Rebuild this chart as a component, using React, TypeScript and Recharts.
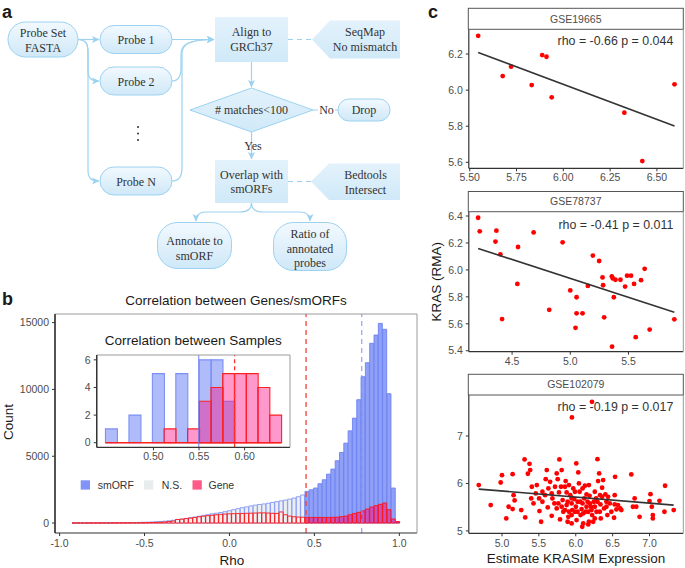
import React from "react";
import { ComposedChart, Bar, Cell, XAxis, YAxis, ReferenceLine, Scatter } from "recharts";

const SANS = "'Liberation Sans', Arial, Helvetica, sans-serif";
const SERIF = "'Liberation Serif', 'Times New Roman', serif";

// ---------- panel b: main histogram (Correlation between Genes/smORFs) ----------
const rhoBins = [
  -0.9143, -0.8889, -0.8635, -0.8381, -0.8127, -0.7873, -0.7619, -0.7365, -0.7111, -0.6857,
  -0.6603, -0.6349, -0.6095, -0.5841, -0.5587, -0.5333, -0.5079, -0.4825, -0.4571, -0.4317,
  -0.4063, -0.3809, -0.3555, -0.3301, -0.3047, -0.2793, -0.2539, -0.2285, -0.2031, -0.1777,
  -0.1523, -0.1269, -0.1015, -0.0761, -0.0507, -0.0253, 0.0001, 0.0255, 0.0509, 0.0763,
  0.1017, 0.1271, 0.1525, 0.1779, 0.2033, 0.2287, 0.2541, 0.2795, 0.3049, 0.3303,
  0.3557, 0.3811, 0.4065, 0.4319, 0.4573, 0.4827, 0.5081, 0.5335, 0.5589, 0.5843,
  0.6097, 0.6351, 0.6605, 0.6859, 0.7113, 0.7367, 0.7621, 0.7875, 0.8129, 0.8383,
  0.8637, 0.8891, 0.9145, 0.9399, 0.9653, 0.9907,
];
const smorfCounts = [
  10, 10, 10, 12, 12, 15, 15, 18, 20, 22,
  25, 28, 30, 35, 40, 45, 55, 65, 80, 95,
  115, 140, 170, 210, 260, 300, 350, 400, 450, 510,
  570, 630, 690, 740, 790, 850, 920, 1000, 1080, 1150,
  1210, 1280, 1340, 1390, 1430, 1480, 1540, 1600, 1660, 1720,
  1790, 1870, 1970, 2100, 2370, 2490, 2620, 2940, 3240, 3660,
  4040, 4660, 5280, 5980, 6900, 7850, 9230, 10950, 12000, 13450,
  14070, 14940, 14500, 9680, 2620, 80,
];
const geneCounts = [
  5, 5, 5, 5, 5, 5, 8, 8, 8, 10,
  10, 12, 12, 15, 15, 18, 20, 30, 40, 50,
  60, 80, 110, 150, 270, 290, 330, 370, 420, 470,
  510, 550, 580, 620, 650, 670, 690, 700, 710, 720,
  730, 740, 750, 760, 760, 750, 730, 720, 830, 620,
  520, 470, 450, 440, 430, 420, 420, 420, 420, 420,
  430, 440, 480, 520, 620, 720, 800, 920, 1050, 1200,
  1300, 1400, 1500, 1000, 300, 110,
];
const sigThreshold = 0.451; // red dashed line
const smorfMedian = 0.779; // blue dashed line
const mainXTicks = [-1, -0.5, 0, 0.5, 1];
const mainYTicks = [0, 5000, 10000, 15000];

// ---------- panel b inset: Correlation between Samples ----------
const sampleBins = [0.4537, 0.4666, 0.4795, 0.4923, 0.5052, 0.518, 0.5309, 0.5438, 0.5566, 0.5695, 0.5823, 0.5952, 0.6081, 0.6209, 0.6338];
const sampleSmorf = [1, 0, 2, 0, 5, 0, 5, 0, 6, 6, 3, 0, 0, 0, 0];
const sampleGene = [0, 0, 0, 0, 0, 1, 0, 1, 3, 4, 5, 5, 5, 4, 2];
const sampleSmorfLine = 0.5497;
const sampleGeneLine = 0.589;
const insetXTicks = [0.5, 0.55, 0.6];
const insetYTicks = [0, 2, 4, 6];

// ---------- panel c: scatter facets ----------
const gse19665X = [5.545, 5.676, 5.721, 5.831, 5.887, 5.91, 5.938, 6.326, 6.422, 6.594];
const gse19665Y = [6.301, 6.078, 6.13, 6.028, 6.194, 6.185, 5.96, 5.875, 5.607, 6.032];
const gse19665FitX = [5.545, 6.594];
const gse19665FitY = [6.209, 5.801];

const gse78737X = [
  4.208, 4.222, 4.365, 4.357, 4.399, 4.414, 4.551, 4.545, 4.685, 4.819,
  4.934, 5.0, 5.054, 5.054, 5.045, 5.105, 5.151, 5.194, 5.248, 5.277,
  5.282, 5.291, 5.357, 5.365, 5.374, 5.359, 5.388, 5.431, 5.471, 5.488,
  5.522, 5.548, 5.562, 5.608, 5.639, 5.682, 5.894,
];
const gse78737Y = [
  6.387, 6.286, 6.291, 6.21, 6.116, 5.635, 6.17, 5.896, 6.278, 5.704,
  6.205, 5.848, 5.797, 5.678, 5.57, 5.678, 5.881, 6.106, 6.066, 5.944,
  5.886, 5.648, 5.952, 5.937, 5.797, 5.43, 5.927, 5.927, 5.876, 5.957,
  5.957, 5.896, 5.501, 5.924, 6.008, 5.557, 5.633,
];
const gse78737FitX = [4.208, 5.894];
const gse78737FitY = [6.159, 5.686];

const gse102079X = [
  6.22, 5.948, 4.685, 4.847, 4.982, 5.0, 5.058, 5.09, 5.144, 5.157,
  5.171, 5.144, 5.261, 5.315, 5.306, 5.373, 5.382, 5.351, 5.404, 5.396,
  5.427, 5.458, 5.508, 5.53, 5.548, 5.584, 5.607, 5.593, 5.629, 5.62,
  5.652, 5.674, 5.683, 5.71, 5.719, 5.742, 5.755, 5.773, 5.778, 5.787,
  5.809, 5.8, 5.809, 5.822, 5.854, 5.863, 5.876, 5.89, 5.899, 5.908,
  5.926, 5.944, 5.953, 5.98, 5.989, 6.002, 6.011, 6.007, 6.034, 6.043,
  6.052, 6.061, 6.079, 6.088, 6.101, 6.115, 6.124, 6.146, 6.16, 6.169,
  6.178, 6.187, 6.205, 6.222, 6.236, 6.245, 6.258, 6.276, 6.294, 6.303,
  6.317, 6.33, 6.335, 6.339, 6.357, 6.371, 6.384, 6.402, 6.416, 6.429,
  6.438, 6.519, 6.533, 6.528, 6.551, 6.604, 6.753, 6.798, 6.775, 6.82,
  6.865, 7.013, 7.0, 7.031, 7.045, 7.045, 7.135, 7.202, 7.211, 7.328,
  5.831, 5.908, 5.944, 5.966, 6.025, 6.065, 6.092, 6.133, 6.146, 6.191,
  6.213, 6.258, 6.281, 6.178, 6.092, 6.025, 5.944, 5.876, 5.854, 5.764,
  5.742, 5.674, 5.548, 5.472, 5.503, 6.294, 6.326, 6.357, 6.416, 6.461,
  6.483, 6.573, 6.618, 6.528, 6.101, 6.169, 6.258, 5.989, 5.89, 5.944,
];
const gse102079Y = [
  7.72, 7.39, 5.965, 5.544, 6.02, 6.175, 5.263, 5.509, 6.196, 5.754,
  5.642, 5.46, 5.44, 5.284, 6.505, 6.414, 6.281, 6.204, 5.93, 5.684,
  5.579, 5.789, 5.418, 5.193, 5.614, 5.754, 6.281, 6.091, 5.895, 5.495,
  6.035, 5.319, 5.684, 5.579, 5.93, 6.211, 6.091, 5.811, 6.505, 5.242,
  6.281, 5.93, 5.509, 5.649, 5.439, 6.049, 5.811, 5.614, 5.298, 5.965,
  5.754, 5.579, 5.439, 5.67, 5.825, 5.509, 5.228, 6.421, 6.232, 6.0,
  5.825, 5.614, 5.46, 5.088, 5.368, 5.684, 5.951, 5.509, 5.614, 5.404,
  5.193, 5.74, 5.509, 5.333, 5.193, 5.614, 5.825, 5.684, 6.512, 6.049,
  6.211, 5.754, 5.558, 5.263, 5.909, 6.07, 5.474, 5.768, 5.614, 5.333,
  5.719, 5.277, 6.14, 5.558, 5.453, 5.474, 6.189, 5.684, 5.509, 5.509,
  5.298, 5.775, 5.628, 5.509, 5.333, 5.263, 5.635, 5.404, 5.951, 5.439,
  5.404, 5.404, 5.333, 5.895, 5.404, 5.333, 5.579, 5.404, 5.768, 5.579,
  5.439, 5.509, 5.404, 5.965, 5.895, 5.614, 5.684, 5.544, 5.93, 5.579,
  5.474, 5.789, 5.825, 5.965, 5.684, 5.614, 5.404, 5.719, 5.509, 5.579,
  5.404, 5.544, 5.439, 5.754, 5.158, 5.137, 5.263, 5.404, 5.193, 5.158,
];
const gse102079FitX = [4.685, 7.328];
const gse102079FitY = [5.881, 5.544];

// ---------- shared styles ----------
const axisLineStyle = { stroke: "#333333", strokeWidth: 1.2 };
const tickLineStyle = { stroke: "#333333", strokeWidth: 1 };
const tickText = { fontSize: 10.5, fill: "#4D4D4D", fontFamily: SANS };

function MainHistogram() {
  const rows = rhoBins.map((x, i) => ({ x, smorf: smorfCounts[i], gene: geneCounts[i] }));
  const dom: [number, number] = [-1.027, 1.104];
  return (
    <div style={{ position: "absolute", left: 0, top: 285 }}>
      <ComposedChart width={425} height={283} data={rows} margin={{ top: 29, right: 8, bottom: 0, left: 0 }} barGap={0} barCategoryGap={0}>
        <XAxis xAxisId="g" dataKey="x" type="number" domain={dom} allowDataOverflow hide height={0} />
        <XAxis xAxisId="s" dataKey="x" type="number" domain={dom} allowDataOverflow ticks={mainXTicks} interval={0}
          tickFormatter={(v: number) => v.toFixed(1)} height={35} tickSize={3} tickMargin={3.5}
          axisLine={axisLineStyle} tickLine={tickLineStyle} tick={tickText} />
        <YAxis type="number" domain={[-745, 15645]} allowDataOverflow ticks={mainYTicks} interval={0} width={55}
          tickSize={3} tickMargin={3} axisLine={axisLineStyle} tickLine={tickLineStyle} tick={tickText} />
        <Bar xAxisId="s" dataKey="smorf" isAnimationActive={false} strokeWidth={0.9}>
          {rows.map((r, i) => (
            <Cell key={"s" + i} fill={r.x > sigThreshold ? "#8193F6" : "#ECEFF0"} fillOpacity={r.x > sigThreshold ? 0.88 : 1}
              stroke={r.x > sigThreshold ? "#6C82F2" : "#8597F6"} />
          ))}
        </Bar>
        <Bar xAxisId="g" dataKey="gene" isAnimationActive={false} strokeWidth={0.9}>
          {rows.map((r, i) => (
            <Cell key={"g" + i} fill={r.x > sigThreshold ? "#FF0080" : "#F2F3F3"} fillOpacity={r.x > sigThreshold ? 0.5 : 0.6}
              stroke="#FF1414" />
          ))}
        </Bar>
        <ReferenceLine xAxisId="s" x={sigThreshold} stroke="#F2413A" strokeWidth={1.3} strokeDasharray="5 4" />
        <ReferenceLine xAxisId="s" x={smorfMedian} stroke="#7B8FF6" strokeWidth={1} strokeDasharray="5 4" />
      </ComposedChart>
    </div>
  );
}

function InsetHistogram() {
  const rows = sampleBins.map((x, i) => ({ x, smorf: sampleSmorf[i], gene: sampleGene[i] }));
  const dom: [number, number] = [0.4377, 0.6498];
  const half = (sampleBins[1] - sampleBins[0]) / 2;
  return (
    <div style={{ position: "absolute", left: 70, top: 350 }}>
      <ComposedChart width={225} height={115} data={rows} margin={{ top: 5, right: 5, bottom: 0, left: 0 }} barGap={0} barCategoryGap={0}>
        <XAxis xAxisId="g" dataKey="x" type="number" domain={dom} allowDataOverflow hide height={0} />
        <XAxis xAxisId="s" dataKey="x" type="number" domain={dom} allowDataOverflow ticks={insetXTicks} interval={0}
          tickFormatter={(v: number) => v.toFixed(2)} height={17.7} tickSize={3} tickMargin={2}
          axisLine={axisLineStyle} tickLine={tickLineStyle} tick={tickText} />
        <YAxis type="number" domain={[-0.33, 6.35]} allowDataOverflow ticks={insetYTicks} interval={0} width={26.7}
          tickSize={3} tickMargin={3} axisLine={axisLineStyle} tickLine={tickLineStyle} tick={tickText} />
        <Bar xAxisId="s" dataKey="smorf" isAnimationActive={false} fill="#8093F5" fillOpacity={0.62} stroke="#7B8FF6" strokeWidth={1.1} />
        <Bar xAxisId="g" dataKey="gene" isAnimationActive={false} fill="#FF0080" fillOpacity={0.4} stroke="#FF2020" strokeWidth={1.1} />
        <ReferenceLine xAxisId="s" segment={[{ x: sampleBins[0] - half, y: 0 }, { x: sampleBins[sampleBins.length - 1] + half, y: 0 }]}
          stroke="#FF2020" strokeWidth={1.3} />
        <ReferenceLine xAxisId="s" x={sampleSmorfLine} stroke="#6C82F2" strokeWidth={1} />
        <ReferenceLine xAxisId="s" x={sampleGeneLine} stroke="#FF3030" strokeWidth={1.3} strokeDasharray="4 3" />
      </ComposedChart>
    </div>
  );
}

const RedDot = (p: any) => <circle cx={p.cx} cy={p.cy} r={2.4} fill="#FF0000" />;
const NoDot = () => <g />;

type FacetProps = {
  top: number; height: number; mt: number; xh: number; tickMargin: number;
  xs: number[]; ys: number[]; fitX: number[]; fitY: number[];
  xDomain: [number, number]; yDomain: [number, number];
  xTicks: number[]; yTicks: number[]; fx: (v: number) => string; fy: (v: number) => string;
};

function Facet(props: FacetProps) {
  const pts = props.xs.map((x, i) => ({ x, y: props.ys[i] }));
  const fit = props.fitX.map((x, i) => ({ x, y: props.fitY[i] }));
  return (
    <div style={{ position: "absolute", left: 415, top: props.top }}>
      <ComposedChart width={270} height={props.height} margin={{ top: props.mt, right: 1.7, bottom: 0, left: 0 }}>
        <XAxis dataKey="x" type="number" domain={props.xDomain} allowDataOverflow ticks={props.xTicks} interval={0}
          tickFormatter={props.fx} height={props.xh} tickSize={3} tickMargin={props.tickMargin}
          axisLine={axisLineStyle} tickLine={tickLineStyle} tick={tickText} />
        <YAxis dataKey="y" type="number" domain={props.yDomain} allowDataOverflow ticks={props.yTicks} interval={0}
          tickFormatter={props.fy} width={53.8} tickSize={3} tickMargin={3}
          axisLine={axisLineStyle} tickLine={tickLineStyle} tick={tickText} />
        <Scatter data={pts} shape={RedDot} isAnimationActive={false} />
        <Scatter data={fit} shape={NoDot} line={{ stroke: "#333333", strokeWidth: 1.6 }} isAnimationActive={false} />
      </ComposedChart>
    </div>
  );
}

function Flowchart() {
  const LC = "#9CD2F0";
  const txt = { fontFamily: SERIF, fontSize: 12, fill: "#333333", textAnchor: "middle" as const };
  const boxFill = "url(#boxGrad)";
  const rectFill = "url(#rectGrad)";
  return (
    <g>
      <defs>
        <linearGradient id="boxGrad" x1="0" y1="0" x2="0" y2="1">
          <stop offset="0" stopColor="#F2F9FE" />
          <stop offset="1" stopColor="#CFE8F8" />
        </linearGradient>
        <linearGradient id="rectGrad" x1="0" y1="0" x2="0" y2="1">
          <stop offset="0" stopColor="#E3F2FC" />
          <stop offset="1" stopColor="#D0E9F8" />
        </linearGradient>
        <marker id="arr" markerWidth="8" markerHeight="8" refX="7" refY="4" orient="auto" markerUnits="userSpaceOnUse">
          <path d="M0,0.5 L7.5,4 L0,7.5 L1.8,4 Z" fill={LC} />
        </marker>
      </defs>
      <g fill="none" stroke={LC} strokeWidth={1.2}>
        <path d="M78,39.5 L99,39.5" markerEnd="url(#arr)" />
        <path d="M78,39.5 C86,39.5 88,44 88,52 L88,70 C88,78 91,81 99,81" markerEnd="url(#arr)" />
        <path d="M78,39.5 C86,39.5 88,44 88,52 L88,170 C88,178 91,181 99,181" markerEnd="url(#arr)" />
        <path d="M172,39.5 L214,39.5" markerEnd="url(#arr)" />
        <path d="M172,81 C179,81 181,76 181,68 L181,54 C181,44 190,39.5 214,39.5" markerEnd="url(#arr)" />
        <path d="M172,181 C179,181 182,176 182,168 L182,54 C182,44 190,39.5 214,39.5" markerEnd="url(#arr)" />
        <path d="M251.5,62 L251.5,87" markerEnd="url(#arr)" />
        <path d="M251.5,132 L251.5,159" markerEnd="url(#arr)" />
        <path d="M313,110 L318,110 M335,110 L338,110" />
        <path d="M251.5,203 C251.5,210 247,212 240,212 L206,212 C199,212 196,215 196,221" markerEnd="url(#arr)" />
        <path d="M251.5,203 C251.5,210 256,212 263,212 L300,212 C307,212 310,215 310,221" markerEnd="url(#arr)" />
        <path d="M288,39.5 L312,39.5 M288,181.5 L311,181.5" strokeDasharray="5 4" />
      </g>
      <rect x={8} y={22} width={70} height={35} rx={17.5} fill={boxFill} stroke={LC} />
      <rect x={100} y={25.5} width={72} height={28} rx={14} fill={boxFill} stroke={LC} />
      <rect x={100} y={67} width={72} height={28} rx={14} fill={boxFill} stroke={LC} />
      <rect x={100} y={167} width={72} height={28} rx={14} fill={boxFill} stroke={LC} />
      <rect x={215} y={17} width={73} height={45} fill={rectFill} />
      <rect x={215} y={160} width={73} height={43} fill={rectFill} />
      <polygon points="312,39.5 330,20.5 400,20.5 400,58.5 330,58.5" fill={rectFill} />
      <polygon points="311,181.5 329,163.5 400,163.5 400,200 329,200" fill={rectFill} />
      <polygon points="190,110 251.5,88 313,110 251.5,132" fill={rectFill} stroke={LC} />
      <rect x={338} y={99} width={52} height={22} rx={11} fill={boxFill} stroke={LC} />
      <rect x={157.5} y={222.5} width={74} height={46} rx={20} fill={boxFill} stroke={LC} />
      <rect x={273.5} y={222.5} width={73} height={48} rx={20} fill={boxFill} stroke={LC} />
      <circle cx={138} cy={127} r={1} fill="#333" />
      <circle cx={138} cy={133.5} r={1} fill="#333" />
      <circle cx={138} cy={140} r={1} fill="#333" />
      <text x={43} y={37} {...txt}>Probe Set</text>
      <text x={43} y={51.5} {...txt}>FASTA</text>
      <text x={136} y={44} {...txt}>Probe 1</text>
      <text x={136} y={85.5} {...txt}>Probe 2</text>
      <text x={136} y={185.5} {...txt}>Probe N</text>
      <text x={251.5} y={36} {...txt}>Align to</text>
      <text x={251.5} y={51} {...txt}>GRCh37</text>
      <text x={365} y={36} {...txt}>SeqMap</text>
      <text x={365} y={51} {...txt}>No mismatch</text>
      <text x={251.5} y={114} {...txt}>{"# matches<100"}</text>
      <text x={326.5} y={114} {...txt}>No</text>
      <text x={364} y={114} {...txt}>Drop</text>
      <text x={253} y={150} {...txt}>Yes</text>
      <text x={251.5} y={178.5} {...txt}>Overlap with</text>
      <text x={251.5} y={193} {...txt}>smORFs</text>
      <text x={365.5} y={179} {...txt}>Bedtools</text>
      <text x={365.5} y={193.5} {...txt}>Intersect</text>
      <text x={194.5} y={244.5} {...txt}>Annotate to</text>
      <text x={194.5} y={259.5} {...txt}>smORF</text>
      <text x={310} y={237.5} {...txt}>Ratio of</text>
      <text x={310} y={252.5} {...txt}>annotated</text>
      <text x={310} y={266.5} {...txt}>probes</text>
    </g>
  );
}

function Overlay() {
  const panel = { fontFamily: SANS, fontSize: 18, fontWeight: 700, fill: "#1A1A1A" };
  const title = { fontFamily: SANS, fontSize: 13.5, fill: "#1A1A1A", textAnchor: "middle" as const };
  const axisTitle = { fontFamily: SANS, fontSize: 13.5, fill: "#1A1A1A", textAnchor: "middle" as const };
  const legendText = { fontFamily: SANS, fontSize: 10.5, fill: "#333333" };
  const stripText = { fontFamily: SANS, fontSize: 10.5, fill: "#4D4D4D", textAnchor: "middle" as const };
  const rhoText = { fontFamily: SANS, fontSize: 12.4, fill: "#333333", textAnchor: "end" as const };
  const frame = { stroke: "#9A9A9A", strokeWidth: 1, fill: "none" };
  const axisEdge = { stroke: "#333333", strokeWidth: 1.2, fill: "none" };
  const strips = [
    { y0: 8.3, y1: 29.3, bottom: 168.3, label: "GSE19665", rho: "rho = -0.66 p = 0.044", rhoY: 45 },
    { y0: 191.5, y1: 211.7, bottom: 351.7, label: "GSE78737", rho: "rho = -0.41 p = 0.011", rhoY: 228.7 },
    { y0: 374.3, y1: 395, bottom: 533.3, label: "GSE102079", rho: "rho = -0.19 p = 0.017", rhoY: 411 },
  ];
  return (
    <svg width={685} height={568} style={{ position: "absolute", left: 0, top: 0, pointerEvents: "none" }}>
      <Flowchart />
      <text x={2} y={18.3} {...panel}>a</text>
      <text x={2} y={305} {...panel}>b</text>
      <text x={428} y={18.3} {...panel}>c</text>

      {/* panel b */}
      <text x={236} y={305} {...title}>Correlation between Genes/smORFs</text>
      <path d="M55,314 L417,314 L417,533" {...frame} />
      <path d="M55,314 L55,533" {...axisEdge} />
      <text transform="translate(13.3,422) rotate(-90)" {...axisTitle}>Count</text>
      <text x={232} y={565} {...axisTitle}>Rho</text>
      <rect x={80.7} y={480.3} width={9.3} height={9.3} fill="#8193F6" />
      <text x={97.7} y={488.8} {...legendText}>smORF</text>
      <rect x={144} y={480.3} width={9.3} height={9.3} fill="#E9ECED" />
      <text x={161.7} y={488.8} {...legendText}>N.S.</text>
      <rect x={192.5} y={480.3} width={9.3} height={9.3} fill="#FF5A85" />
      <text x={208.5} y={488.8} {...legendText}>Gene</text>
      <text x={193.3} y={345} {...title}>Correlation between Samples</text>
      <path d="M96.7,355 L290,355 L290,447.3" {...frame} />
      <path d="M96.7,355 L96.7,447.3" {...axisEdge} />

      {/* panel c */}
      {strips.map((s) => (
        <g key={s.label}>
          <rect x={468.3} y={s.y0} width={215} height={s.y1 - s.y0} fill="#FFFFFF" stroke="#555555" strokeWidth={1} />
          <text x={575.8} y={(s.y0 + s.y1) / 2 + 3.8} {...stripText}>{s.label}</text>
          <path d={`M683.3,${s.y1} L683.3,${s.bottom}`} {...frame} />
          <text x={673.3} y={s.rhoY} {...rhoText}>{s.rho}</text>
        </g>
      ))}
      <text transform="translate(441.4,281.7) rotate(-90)" {...axisTitle}>KRAS (RMA)</text>
      <text x={576} y={563} {...axisTitle}>Estimate KRASIM Expression</text>
    </svg>
  );
}

export default function App() {
  return (
    <div style={{ position: "absolute", left: 0, top: 0, width: 685, height: 568, background: "#FFFFFF", overflow: "hidden" }}>
      <MainHistogram />
      <InsetHistogram />
      <Facet top={25} height={165} mt={4.3} xh={21.7} tickMargin={1.8}
        xs={gse19665X} ys={gse19665Y} fitX={gse19665FitX} fitY={gse19665FitY}
        xDomain={[5.495, 6.641]} yDomain={[5.567, 6.337]}
        xTicks={[5.5, 5.75, 6.0, 6.25, 6.5]} yTicks={[5.6, 5.8, 6.0, 6.2]}
        fx={(v) => v.toFixed(2)} fy={(v) => v.toFixed(1)} />
      <Facet top={207} height={164.7} mt={4.7} xh={20} tickMargin={3.2}
        xs={gse78737X} ys={gse78737Y} fitX={gse78737FitX} fitY={gse78737FitY}
        xDomain={[4.128, 5.971]} yDomain={[5.393, 6.432]}
        xTicks={[4.5, 5.0, 5.5]} yTicks={[5.4, 5.6, 5.8, 6.0, 6.2, 6.4]}
        fx={(v) => v.toFixed(1)} fy={(v) => v.toFixed(1)} />
      <Facet top={390} height={163.3} mt={5} xh={20} tickMargin={3.2}
        xs={gse102079X} ys={gse102079Y} fitX={gse102079FitX} fitY={gse102079FitY}
        xDomain={[4.55, 7.458]} yDomain={[4.95, 7.863]}
        xTicks={[5.0, 5.5, 6.0, 6.5, 7.0]} yTicks={[5, 6, 7]}
        fx={(v) => v.toFixed(1)} fy={(v) => v.toFixed(0)} />
      <Overlay />
    </div>
  );
}
